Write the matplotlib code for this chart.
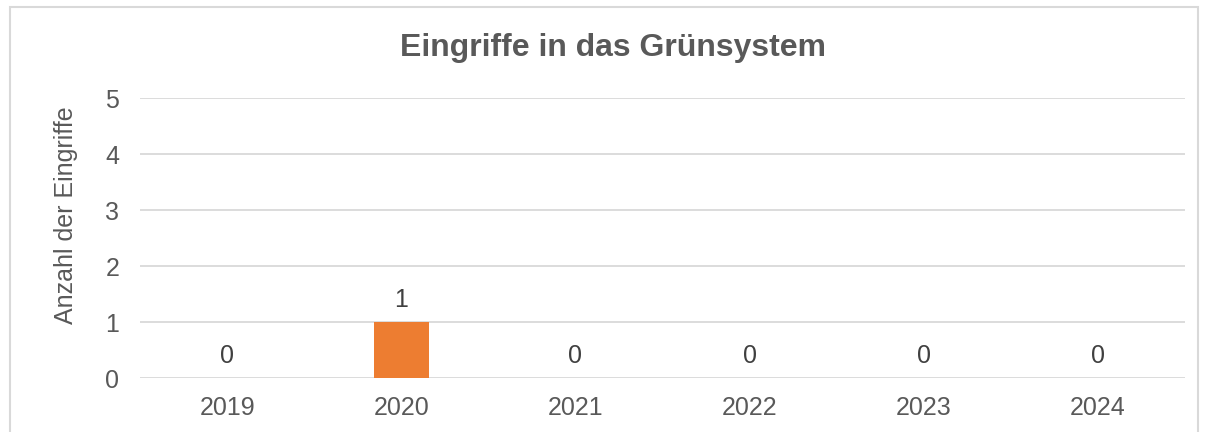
import matplotlib.pyplot as plt
from matplotlib.patches import Rectangle

years = ["2019", "2020", "2021", "2022", "2023", "2024"]
counts = [0, 1, 0, 0, 0, 0]
y_ticks = [0, 1, 2, 3, 4, 5]

plt.rcParams["font.family"] = ["Liberation Sans", "DejaVu Sans"]
grey = "#595959"
fs = 18

fig = plt.figure(figsize=(12.08, 4.32), dpi=100)
ax = fig.add_axes([140 / 1208, 1 - 378 / 432, 1045 / 1208, 280 / 432])

x = list(range(len(years)))
bars = ax.bar(x, counts, width=0.316, color="#ED7D31", zorder=3)
for xi, v in zip(x, counts):
    ax.annotate(str(v), (xi, v), xytext=(0, 7), textcoords="offset points",
                ha="center", va="bottom", fontsize=fs, color="#404040")

ax.set_xlim(-0.5, len(years) - 0.5)
ax.set_ylim(0, 5)
ax.set_yticks(y_ticks)
ax.set_xticks(x)
ax.set_xticklabels(years)
ax.tick_params(length=0, labelsize=fs, labelcolor=grey)
ax.tick_params(axis="y", pad=15)
ax.tick_params(axis="x", pad=13)
ax.yaxis.grid(True, color="#d9d9d9", linewidth=1.3, zorder=0)
for s in ax.spines.values():
    s.set_visible(False)

ax.set_ylabel("Anzahl der Eingriffe", fontsize=fs, color=grey)
ax.yaxis.set_label_coords(-62 / 1045, 0.582)

fig.text(613 / 1208, 1 - 48 / 432, "Eingriffe in das Grünsystem", ha="center",
         va="center", fontsize=23, fontweight="bold", color=grey)

fig.patches.append(Rectangle((10 / 1208, -0.1), 1188 / 1208, 1.1 - 7 / 432,
                             transform=fig.transFigure, fill=False,
                             edgecolor="#d9d9d9", linewidth=1.5))

fig.savefig("out.png", dpi=100)
